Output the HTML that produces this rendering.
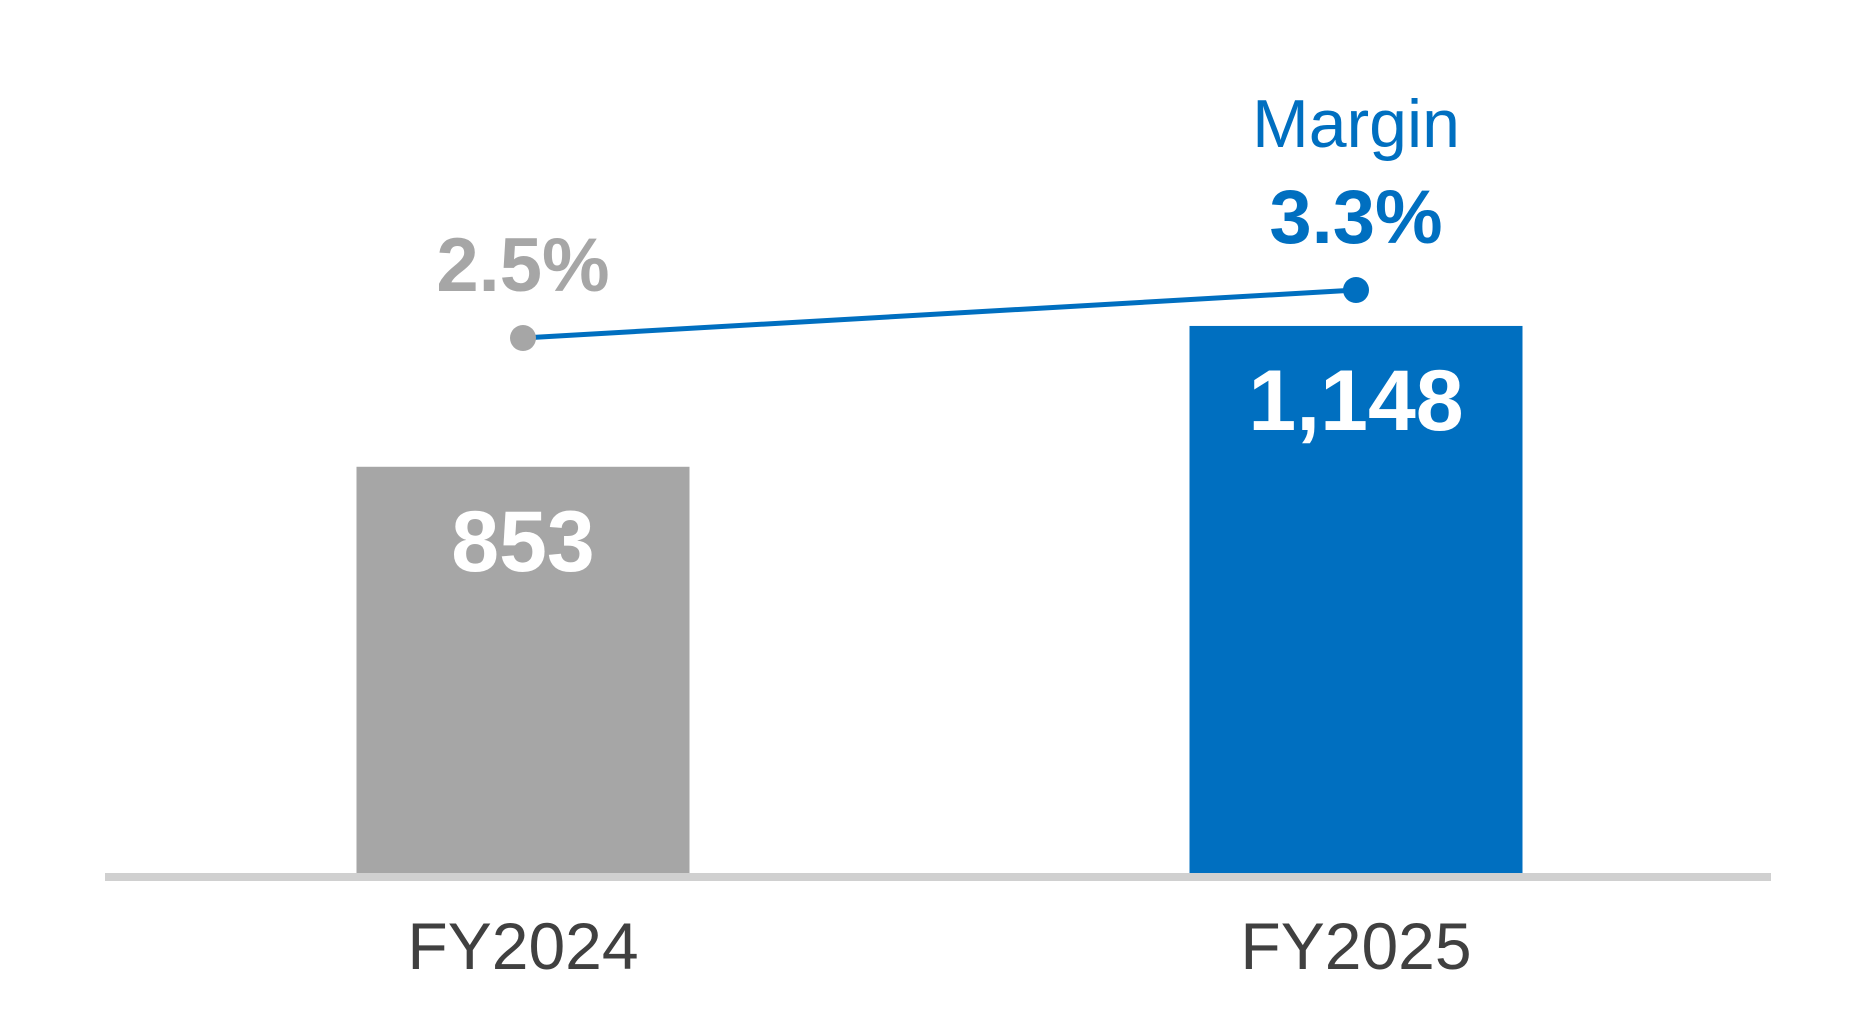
<!DOCTYPE html>
<html><head><meta charset="utf-8"><style>
html,body{margin:0;padding:0;background:#fff;}
svg{display:block;font-family:"Liberation Sans",sans-serif;}
</style></head><body>
<svg id="chart" width="1875" height="1021" viewBox="0 0 1875 1021" xmlns="http://www.w3.org/2000/svg"></svg>
<script>
const categories = ["FY2024", "FY2025"];
const values = [853, 1148];
const valueLabels = ["853", "1,148"];
const margins = [2.5, 3.3];
const marginLabels = ["2.5%", "3.3%"];
const barColors = ["#a6a6a6", "#006fc0"];

const NS = "http://www.w3.org/2000/svg";
const svg = document.getElementById("chart");
const baseY = 874;
const xCenters = [523, 1356];
const barW = 333;
function xPos(i){ return xCenters[i]; }
function yBar(v){ return baseY - v * 0.4774; }
function yMargin(m){ return 488 - m * 60; }
function mk(tag, attrs){ const e = document.createElementNS(NS, tag); for (const k in attrs) e.setAttribute(k, attrs[k]); svg.appendChild(e); return e; }

categories.forEach((c, i) => {
  const top = yBar(values[i]);
  const r = mk("rect", {x: xPos(i) - barW/2, y: top, width: barW, height: baseY - top, fill: barColors[i]});
  
  
  const t = mk("text", {x: xPos(i), y: top + 104, "text-anchor": "middle", "font-size": 86, "font-weight": "bold", fill: "#fff"});
  t.textContent = valueLabels[i];
  
  
  const l = mk("text", {x: xPos(i), y: 969, "text-anchor": "middle", "font-size": 66, fill: "#404040"});
  l.textContent = c;
  
  
});

const axis = mk("rect", {x: 105, y: 873, width: 1666, height: 8, fill: "#d0d0d0"});



const line = mk("line", {x1: xPos(0), y1: yMargin(margins[0]), x2: xPos(1), y2: yMargin(margins[1]), stroke: "#006fc0", "stroke-width": 5});



const dotColors = ["#a6a6a6", "#006fc0"];
margins.forEach((m, i) => {
  const y = yMargin(m);
  const d = mk("circle", {cx: xPos(i), cy: y, r: 13, fill: dotColors[i]});
  
  
  const t = mk("text", {x: xPos(i), y: y - 47, "text-anchor": "middle", "font-size": 76, "font-weight": "bold", fill: dotColors[i]});
  t.textContent = marginLabels[i];
  
  
});

const title = mk("text", {x: xPos(1), y: 147, "text-anchor": "middle", "font-size": 68, fill: "#006fc0"});
title.textContent = "Margin";


</script>
</body></html>
